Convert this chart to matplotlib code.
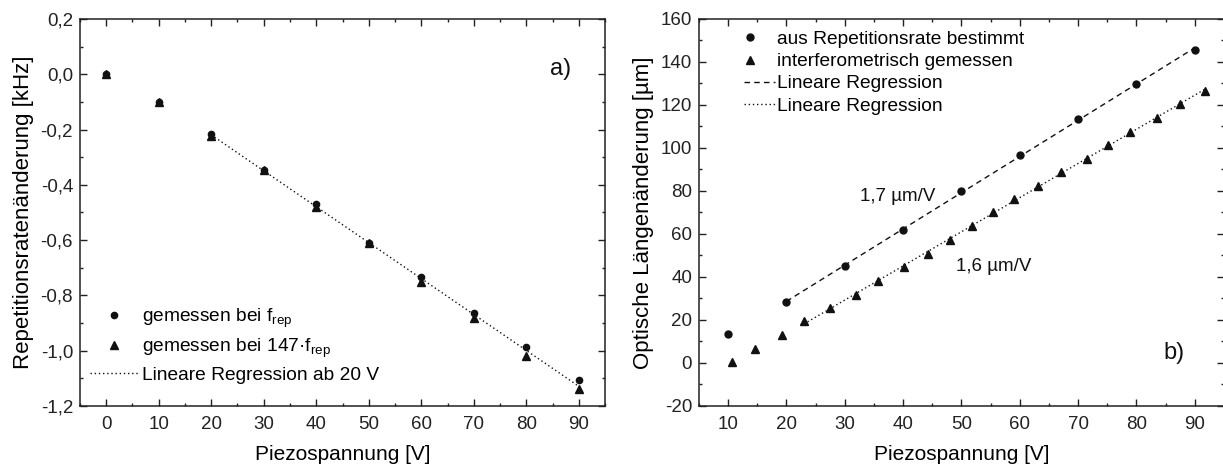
import matplotlib
matplotlib.use("Agg")
import matplotlib.pyplot as plt
import numpy as np
from matplotlib.ticker import FuncFormatter, MultipleLocator
from matplotlib.lines import Line2D
from matplotlib.legend_handler import HandlerLine2D

plt.rcParams['font.family'] = ['Liberation Sans', 'DejaVu Sans']
plt.rcParams['mathtext.fontset'] = 'custom'
plt.rcParams['mathtext.rm'] = 'Liberation Sans'
plt.rcParams['axes.unicode_minus'] = False

# a) repetition rate change vs piezo voltage
volt_a = [0, 10, 20, 30, 40, 50, 60, 70, 80, 90]
frep_khz = [0.0, -0.101, -0.2175, -0.345, -0.471, -0.612, -0.734, -0.862, -0.986, -1.106]
frep147_khz = [0.0, -0.101, -0.225, -0.345, -0.480, -0.612, -0.750, -0.880, -1.018, -1.140]

# b) optical length change vs piezo voltage
volt_rep = [10, 20, 30, 40, 50, 60, 70, 80, 90]
len_rep = [13.3, 28.4, 45.0, 62.0, 80.2, 96.6, 113.6, 129.6, 145.7]
volt_int = [10.7, 14.6, 19.2, 23.0, 27.5, 31.95, 35.7, 40.2, 44.2, 48.0, 51.8,
            55.35, 59.0, 63.2, 67.0, 71.6, 75.2, 78.85, 83.5, 87.5, 91.7]
len_int = [0.5, 6.6, 13.0, 19.3, 25.5, 31.8, 38.0, 44.7, 50.8, 57.3, 63.7,
           70.0, 76.2, 82.5, 88.8, 95.0, 101.4, 107.5, 114.0, 120.4, 126.7]

FS = 13.5       # ticks, annotations
FS_LEG = 13.8   # legend entries
FS_X = 15       # x axis title
FS_Y = 16       # y axis title
INK = '#111111'
DASHED = (0, (4, 3))
DOTTED = (0, (1, 2))


def comma_fmt(decimals):
    return FuncFormatter(lambda v, p: f"{v:.{decimals}f}".replace('.', ','))


def style_axes(ax):
    for s in ax.spines.values():
        s.set_linewidth(1.1)
        s.set_color('#222222')
    ax.tick_params(which='both', direction='in', top=True, right=True,
                   labelsize=FS, colors='#222222', width=1.0)
    ax.tick_params(which='major', length=5)
    ax.tick_params(which='minor', length=2.5)
    ax.tick_params(axis='y', pad=5)
    ax.tick_params(axis='x', pad=7)


fig = plt.figure(figsize=(12.23, 4.70), dpi=100)
ax1 = fig.add_axes([0.0654, 0.1362, 0.4293, 0.8234])
ax2 = fig.add_axes([0.5715, 0.1362, 0.4293, 0.8234])

# ---- panel a)
va = np.array(volt_a)
fit_x = np.concatenate([va[va >= 20], va[va >= 20]])
fit_y = np.concatenate([np.array(frep_khz)[va >= 20], np.array(frep147_khz)[va >= 20]])
k, d = np.polyfit(fit_x, fit_y, 1)
xl = np.array([20, 90])
ax1.plot(xl, k * xl + d, ls=DOTTED, color=INK, lw=1.0)
ax1.plot(volt_a, frep_khz, 'o', color=INK, ms=4.5, ls='none')
ax1.plot(volt_a, frep147_khz, '^', color=INK, ms=5.5, ls='none')

ax1.set_xlim(-5, 95)
ax1.set_ylim(-1.2, 0.2)
ax1.xaxis.set_major_locator(MultipleLocator(10))
ax1.xaxis.set_minor_locator(MultipleLocator(5))
ax1.yaxis.set_major_locator(MultipleLocator(0.2))
ax1.yaxis.set_minor_locator(MultipleLocator(0.1))
ax1.yaxis.set_major_formatter(comma_fmt(1))
style_axes(ax1)
ax1.set_xlabel('Piezospannung [V]', fontsize=FS_X, labelpad=9)
ax1.set_ylabel('Repetitionsratenänderung [kHz]', fontsize=FS_Y, labelpad=5)
ax1.text(86.5, 0.02, 'a)', fontsize=17, ha='center', va='center', color=INK)

handles_a = [
    Line2D([], [], marker='o', ls='none', color=INK, ms=4.5),
    Line2D([], [], marker='^', ls='none', color=INK, ms=5.5),
    Line2D([], [], ls=DOTTED, color=INK, lw=1.0),
]
labels_a = ['gemessen bei f$_\\mathregular{rep}$',
            'gemessen bei 147·f$_\\mathregular{rep}$',
            'Lineare Regression ab 20 V']
ax1.legend(handles_a, labels_a, loc='lower left', bbox_to_anchor=(0.019, 0.058),
           frameon=False, fontsize=FS_LEG, handlelength=2.5, handletextpad=0.2,
           labelspacing=0.33, borderpad=0, borderaxespad=0)

# ---- panel b)
vr = np.array(volt_rep)
lr = np.array(len_rep)
m = vr >= 20
k1, d1 = np.polyfit(vr[m], lr[m], 1)
x1 = np.array([vr[m].min(), vr[m].max()])
ax2.plot(x1, k1 * x1 + d1, ls=DASHED, color=INK, lw=1.0)

vi = np.array(volt_int)
li = np.array(len_int)
n = vi >= 20
k2, d2 = np.polyfit(vi[n], li[n], 1)
x2 = np.array([vi[n].min(), vi[n].max()])
ax2.plot(x2, k2 * x2 + d2, ls=DOTTED, color=INK, lw=1.0)

ax2.plot(volt_rep, len_rep, 'o', color=INK, ms=5, ls='none')
ax2.plot(volt_int, len_int, '^', color=INK, ms=5.5, ls='none')

ax2.text(39.1, 77.4, f'{k1:.1f} µm/V'.replace('.', ','), fontsize=FS,
         ha='center', va='center', color=INK)
ax2.text(55.5, 45.0, f'{k2:.1f} µm/V'.replace('.', ','), fontsize=FS,
         ha='center', va='center', color=INK)
ax2.text(86.5, 4.8, 'b)', fontsize=17, ha='center', va='center', color=INK)

ax2.set_xlim(5, 95)
ax2.set_ylim(-20, 160)
ax2.xaxis.set_major_locator(MultipleLocator(10))
ax2.xaxis.set_minor_locator(MultipleLocator(5))
ax2.yaxis.set_major_locator(MultipleLocator(20))
ax2.yaxis.set_minor_locator(MultipleLocator(10))
style_axes(ax2)
ax2.set_xlabel('Piezospannung [V]', fontsize=FS_X, labelpad=9)
ax2.set_ylabel('Optische Längenänderung [µm]', fontsize=FS_Y, labelpad=5)

h_circ = Line2D([], [], marker='o', ls='none', color=INK, ms=5)
h_tri = Line2D([], [], marker='^', ls='none', color=INK, ms=5.5)
handles_b = [
    h_circ,
    h_tri,
    Line2D([], [], ls=DASHED, color=INK, lw=1.0),
    Line2D([], [], ls=DOTTED, color=INK, lw=1.0),
]
labels_b = ['aus Repetitionsrate bestimmt', 'interferometrisch gemessen',
            'Lineare Regression', 'Lineare Regression']
# symbol-only entries sit towards the left end of the sample slot
shift = HandlerLine2D(xpad=-1.0)
ax2.legend(handles_b, labels_b, loc='upper left', bbox_to_anchor=(0.0857, 0.970),
           frameon=False, fontsize=FS_LEG, handlelength=1.6, handletextpad=0.15,
           labelspacing=0.25, borderpad=0, borderaxespad=0,
           handler_map={h_circ: shift, h_tri: shift})

fig.savefig('out.png', dpi=100)
